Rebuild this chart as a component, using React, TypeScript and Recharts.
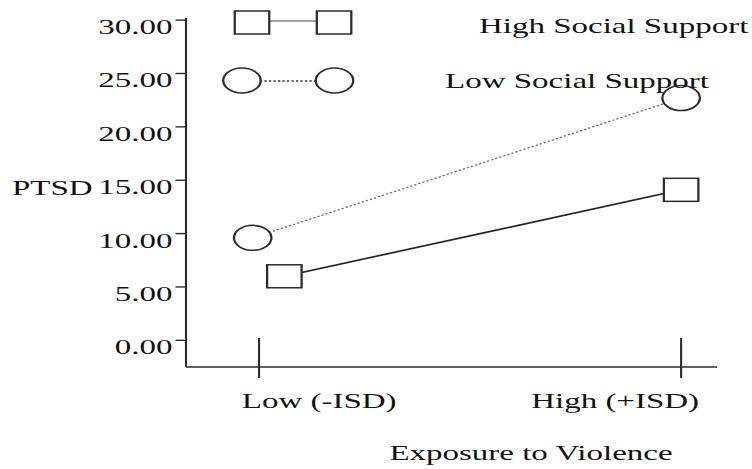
import { LineChart, Line, XAxis, YAxis, Legend } from 'recharts';

const exposureLevels = ['Low (-ISD)', 'High (+ISD)'];
const exposureTicks = [0, 1];
const ptsdTicks = [0, 5, 10, 15, 20, 25, 30];

// high social support: squares, solid line (low point nudged right in the original)
const highSupportX = [0.06, 1.0];
const highSupportPtsd = [6.0, 14.1];

// low social support: circles, dotted line
const lowSupportX = [-0.015, 1.0];
const lowSupportPtsd = [9.6, 22.7];

const highSupportData = highSupportX.map((x, i) => ({ exposure: x, ptsd: highSupportPtsd[i] }));
const lowSupportData = lowSupportX.map((x, i) => ({ exposure: x, ptsd: lowSupportPtsd[i] }));

const FONT = "'Liberation Serif', 'Times New Roman', serif";
const INK = '#111';
const STROKE = '#2b2b2b';

// the original is stretched horizontally, so the chart is drawn narrow and scaled
const STRETCH = 1.5;
const W = 501;
const H = 469;

const Square = ({ cx, cy, size = 23 }: { cx: number; cy: number; size?: number }) => (
  <rect x={cx - size / 2} y={cy - size / 2} width={size} height={size} fill="#fff" stroke={STROKE} strokeWidth={1.5} />
);

const Circle = ({ cx, cy }: { cx: number; cy: number }) => (
  <circle cx={cx} cy={cy} r={12.5} fill="#fff" stroke={STROKE} strokeWidth={1.5} />
);

const YTick = (props: any) => {
  const { x, y, payload } = props;
  return (
    <text x={x} y={y + 14} textAnchor="end" fontFamily={FONT} fontSize={22} fill={INK}>
      {Number(payload.value).toFixed(2)}
    </text>
  );
};

const XTick = (props: any) => {
  const { x, y, payload, index } = props;
  const label = exposureLevels[exposureTicks.indexOf(payload.value)] ?? '';
  const first = index === 0;
  return (
    <g>
      <line x1={x} x2={x} y1={y - 40} y2={y - 11} stroke={STROKE} strokeWidth={1.4} />
      <text
        x={first ? x - 11.5 : x + 12}
        y={y + 30}
        textAnchor={first ? 'start' : 'end'}
        fontFamily={FONT}
        fontSize={22}
        fill={INK}
      >
        {label}
      </text>
    </g>
  );
};

const legendRows: Record<string, any> = {
  high: { a: 168, b: 222.7, cy: 22.5, ly: 21, tx: 319.3, ty: 33 },
  low: { a: 161.3, b: 223, cy: 80.5, ly: 81, tx: 296.7, ty: 88 },
};

const LegendContent = (props: any) => {
  const { payload = [] } = props;
  return (
    <svg width={W} height={120}>
      {payload.map((item: any) => {
        const isHigh = String(item.value).startsWith('High');
        const row = isHigh ? legendRows.high : legendRows.low;
        const Marker = isHigh ? Square : Circle;
        return (
          <g key={item.value}>
            <line
              x1={row.a + 12}
              x2={row.b - 12}
              y1={row.ly}
              y2={row.ly}
              stroke={isHigh ? '#444' : '#333'}
              strokeWidth={isHigh ? 1.2 : 1.3}
              strokeDasharray={isHigh ? undefined : '1.5 1.5'}
            />
            <Marker cx={row.a} cy={row.cy} />
            <Marker cx={row.b} cy={row.cy} />
            <text x={row.tx} y={row.ty} fontFamily={FONT} fontSize={22} fill={INK}>
              {item.value}
            </text>
          </g>
        );
      })}
    </svg>
  );
};

export default function App() {
  return (
    <div
      style={{
        position: 'absolute',
        left: 0,
        top: 0,
        width: W,
        height: H,
        background: '#fff',
        transform: `scaleX(${STRETCH})`,
        transformOrigin: '0 0',
      }}
    >
      <LineChart width={W} height={H} margin={{ top: 18, right: 23, bottom: 42, left: 0 }}>
        <XAxis
          dataKey="exposure"
          type="number"
          domain={[-0.173, 1.085]}
          ticks={exposureTicks}
          allowDataOverflow
          height={60}
          tickSize={11}
          tickMargin={0}
          axisLine={{ stroke: STROKE, strokeWidth: 1.6 }}
          tickLine={{ stroke: STROKE, strokeWidth: 1.4 }}
          tick={<XTick />}
          label={{
            value: 'Exposure to Violence',
            content: (p: any) => {
              const vb = p.viewBox ?? { x: 124, y: 367, width: 354 };
              return (
                <text x={vb.x + vb.width / 2 + 53} y={vb.y + 93} textAnchor="middle" fontFamily={FONT} fontSize={22} fill={INK}>
                  Exposure to Violence
                </text>
              );
            },
          }}
        />
        <YAxis
          dataKey="ptsd"
          type="number"
          domain={[-2.5, 30.2]}
          ticks={ptsdTicks}
          allowDataOverflow
          width={124}
          tickSize={7}
          tickMargin={2}
          axisLine={{ stroke: STROKE, strokeWidth: 1.4 }}
          tickLine={{ stroke: STROKE, strokeWidth: 1.4 }}
          tick={<YTick />}
          label={{
            value: 'PTSD',
            content: (p: any) => {
              const vb = p.viewBox ?? { x: 0, y: 18 };
              return (
                <text x={vb.x + 8} y={vb.y + 177} fontFamily={FONT} fontSize={22} fill={INK}>
                  PTSD
                </text>
              );
            },
          }}
        />
        <Legend
          layout="vertical"
          align="center"
          verticalAlign="middle"
          content={<LegendContent />}
          wrapperStyle={{ position: 'absolute', left: 0, top: 0, width: W, height: 120, pointerEvents: 'none' }}
        />
        <Line
          data={highSupportData}
          dataKey="ptsd"
          name="High Social Support"
          stroke="#222"
          strokeWidth={1.6}
          dot={(p: any) => <Square key={`hs-${p.index}`} cx={p.cx} cy={p.cy} />}
          activeDot={false}
          isAnimationActive={false}
        />
        <Line
          data={lowSupportData}
          dataKey="ptsd"
          name="Low Social Support"
          stroke="#666"
          strokeWidth={1.2}
          strokeDasharray="1.5 1.5"
          dot={(p: any) => <Circle key={`ls-${p.index}`} cx={p.cx} cy={p.cy} />}
          activeDot={false}
          isAnimationActive={false}
        />
      </LineChart>
    </div>
  );
}
